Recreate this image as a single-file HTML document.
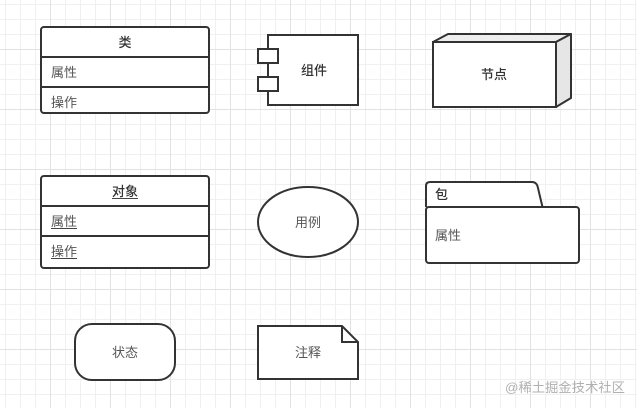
<!DOCTYPE html>
<html><head><meta charset="utf-8">
<style>
html,body{margin:0;padding:0;background:#fff;width:637px;height:408px;overflow:hidden}
svg{display:block}
text{font-family:"Liberation Sans","Noto Sans CJK SC",sans-serif;font-size:13px;fill:#555}
.b{font-weight:500;fill:#333}
.s{fill:#fff;stroke:#333;stroke-width:2}
.n{fill:none;stroke:#333;stroke-width:2}
.u{stroke:#444;stroke-width:1}
</style></head><body>
<svg width="637" height="408" viewBox="0 0 637 408" xmlns="http://www.w3.org/2000/svg">
<defs>
<pattern id="g1" width="15" height="15" patternUnits="userSpaceOnUse" x="5" y="4">
<path d="M0.5 0V15M0 0.5H15" stroke="#f0f0f0" stroke-width="1" fill="none"/>
</pattern>
<pattern id="g2" width="60" height="60" patternUnits="userSpaceOnUse" x="50" y="49">
<path d="M0.5 0V60M0 0.5H60" stroke="#e2e2e2" stroke-width="1" fill="none"/>
</pattern>
</defs>
<rect width="637" height="408" fill="#fff"/>
<rect width="637" height="408" fill="url(#g1)"/>
<rect width="637" height="408" fill="url(#g2)"/>

<rect class="s" x="41" y="27" width="168" height="86" rx="3"/>
<path class="n" d="M41 57H209M41 87H209"/>
<text class="b" x="125" y="47" text-anchor="middle">类</text>
<text x="51" y="77">属性</text>
<text x="51" y="107">操作</text>

<rect class="s" x="268" y="35" width="90" height="70"/>
<rect class="s" x="258" y="49" width="20" height="14"/>
<rect class="s" x="258" y="77" width="20" height="14"/>
<text class="b" x="314" y="75" text-anchor="middle">组件</text>

<path d="M433 42L448 34H571L556 42Z" fill="#eee" stroke="#333" stroke-width="2" stroke-linejoin="round"/>
<path d="M556 42L571 34V98L556 107Z" fill="#e6e6e6" stroke="#333" stroke-width="2" stroke-linejoin="round"/>
<rect class="s" x="433" y="42" width="123" height="65"/>
<text class="b" x="494" y="79" text-anchor="middle">节点</text>

<rect class="s" x="41" y="176" width="168" height="92" rx="3"/>
<path class="n" d="M41 206H209M41 236H209"/>
<text class="b" x="125" y="196" text-anchor="middle">对象</text>
<path class="u" d="M112 198.500H138M51 228.500H77M51 258.500H77"/>
<text x="51" y="226">属性</text>
<text x="51" y="256">操作</text>

<ellipse class="s" cx="308" cy="222" rx="50" ry="35"/>
<text x="308" y="227" text-anchor="middle">用例</text>

<path class="s" d="M426 207V186Q426 182 430 182H532Q536 182 537.500 186L542.500 207"/>
<rect class="s" x="426" y="207" width="153" height="56" rx="3"/>
<text class="b" x="435" y="199">包</text>
<text x="435" y="240">属性</text>

<rect class="s" x="75" y="324" width="100" height="56" rx="17"/>
<text x="125" y="357" text-anchor="middle">状态</text>

<path class="s" d="M258 326H342L358 342V379H258Z"/>
<path class="n" d="M342 326V342H358"/>
<text x="308" y="357" text-anchor="middle">注释</text>

<text x="505" y="392" style="font-size:13.300px;fill:#b0b0b0">@稀土掘金技术社区</text>
</svg>
</body></html>
